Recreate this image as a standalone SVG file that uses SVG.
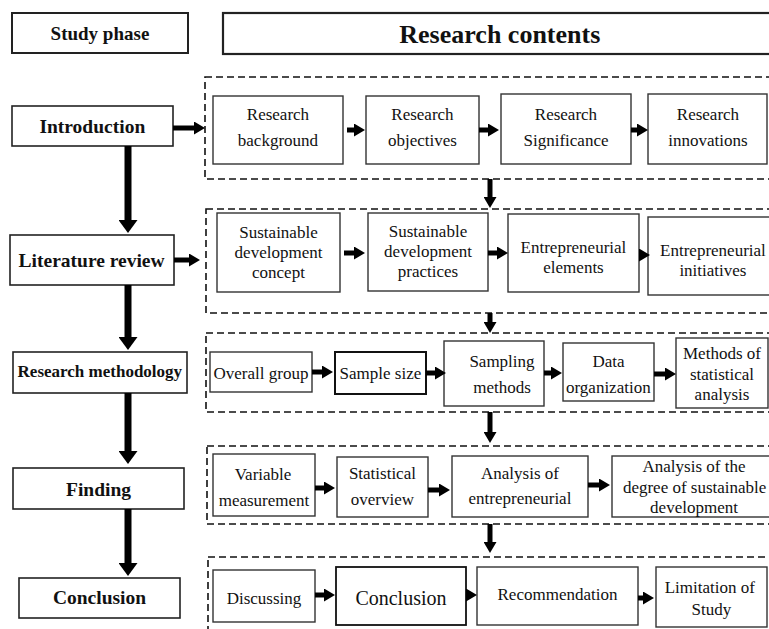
<svg xmlns="http://www.w3.org/2000/svg" width="769" height="629" viewBox="0 0 769 629">
  <defs>
    <marker id="ah" markerUnits="userSpaceOnUse" markerWidth="11" markerHeight="13" refX="1" refY="6.5" orient="auto">
      <path d="M0,0 L11,6.5 L0,13 z" fill="#000"/>
    </marker>
    <marker id="ahBig" markerUnits="userSpaceOnUse" markerWidth="13" markerHeight="19" refX="1" refY="9.5" orient="auto">
      <path d="M0,0 L13,9.5 L0,19 z" fill="#000"/>
    </marker>
  </defs>

  <rect width="769" height="629" fill="#fff"/>

  <!-- dashed content groups -->
  <g fill="none" stroke="#111" stroke-width="1.6" stroke-dasharray="7 4">
    <rect x="205" y="77" width="575" height="102"/>
    <rect x="206" y="209" width="575" height="104"/>
    <rect x="206" y="333" width="575" height="79"/>
    <rect x="207" y="446" width="575" height="78"/>
    <rect x="208" y="557" width="575" height="90"/>
  </g>

  <!-- column headers and study phases (bold labels, left-aligned at measured offsets) -->
  <g font-family="Liberation Serif" font-weight="bold" font-size="19.5" fill="#111">
    <g id="hdr-phase">
      <rect x="12" y="13" width="176" height="40" fill="#fff" stroke="#222" stroke-width="2"/>
      <text x="50.6" y="40" font-family="Liberation Serif" font-size="19">Study phase</text>
    </g>
    <g id="hdr-contents">
      <rect x="223" y="13" width="560" height="41" fill="#fff" stroke="#222" stroke-width="2.2"/>
      <text x="399.3" y="43" font-family="Liberation Serif" font-size="26">Research contents</text>
    </g>
    <g id="ph-intro">
      <rect x="12" y="106" width="161" height="40" fill="#fff" stroke="#222" stroke-width="1.6"/>
      <text x="39.4" y="133" font-family="Liberation Serif">Introduction</text>
    </g>
    <g id="ph-lit">
      <rect x="10" y="235" width="164" height="50" fill="#fff" stroke="#222" stroke-width="1.6"/>
      <text x="18.6" y="267" font-family="Liberation Serif">Literature review</text>
    </g>
    <g id="ph-method">
      <rect x="13" y="352" width="174" height="41" fill="#fff" stroke="#222" stroke-width="1.6"/>
      <text x="17.6" y="377" font-family="Liberation Serif" font-size="17">Research methodology</text>
    </g>
    <g id="ph-finding">
      <rect x="13" y="468" width="171" height="41" fill="#fff" stroke="#222" stroke-width="1.6"/>
      <text x="66" y="496" font-family="Liberation Serif">Finding</text>
    </g>
    <g id="ph-concl">
      <rect x="19" y="578" width="161" height="40" fill="#fff" stroke="#222" stroke-width="1.6"/>
      <text x="52.9" y="604" font-family="Liberation Serif">Conclusion</text>
    </g>
  </g>

  <!-- research content boxes: outlines -->
  <g fill="#fff" stroke="#333" stroke-width="1.4">
    <rect id="r-background" x="213" y="96" width="130" height="68"/>
    <rect id="r-objectives" x="366" y="96" width="113" height="68"/>
    <rect id="r-significance" x="501" y="94" width="130" height="70"/>
    <rect id="r-innovations" x="648" y="94" width="119" height="70"/>
    <rect id="r-sd-concept" x="217" y="213" width="123" height="79"/>
    <rect id="r-sd-practices" x="368" y="213" width="120" height="78"/>
    <rect id="r-ent-elements" x="508" y="214" width="131" height="78"/>
    <rect id="r-ent-initiatives" x="648" y="217" width="125" height="78"/>
    <rect id="r-overall" x="210" y="352" width="102" height="40"/>
    <rect id="r-sample" x="335" y="352" width="91" height="42" stroke="#111" stroke-width="2"/>
    <rect id="r-sampling" x="444" y="341" width="100" height="65"/>
    <rect id="r-data" x="563" y="343" width="91" height="58"/>
    <rect id="r-stat-methods" x="676" y="338" width="92" height="70"/>
    <rect id="r-variable" x="213" y="454" width="102" height="62"/>
    <rect id="r-overview" x="337" y="457" width="91" height="60"/>
    <rect id="r-analysis-ent" x="452" y="456" width="136" height="61"/>
    <rect id="r-analysis-sd" x="612" y="456" width="162" height="61"/>
    <rect id="r-discussing" x="213" y="570" width="102" height="52"/>
    <rect id="r-conclusion" x="336" y="567" width="130" height="58" stroke="#111" stroke-width="1.8"/>
    <rect id="r-recommendation" x="477" y="567" width="161" height="58"/>
    <rect id="r-limitation" x="656" y="567" width="111" height="60"/>
  </g>

  <!-- research content boxes: labels -->
  <g font-family="Liberation Serif" font-size="17" fill="#111">
    <g id="n-background"><text x="246.8" y="120" font-family="Liberation Serif">Research</text><text x="237.8" y="146" font-family="Liberation Serif">background</text></g>
    <g id="n-objectives"><text x="391.3" y="120" font-family="Liberation Serif">Research</text><text x="388" y="146" font-family="Liberation Serif">objectives</text></g>
    <g id="n-significance"><text x="534.8" y="120" font-family="Liberation Serif">Research</text><text x="523.5" y="146" font-family="Liberation Serif">Significance</text></g>
    <g id="n-innovations"><text x="676.8" y="120" font-family="Liberation Serif">Research</text><text x="668.3" y="146" font-family="Liberation Serif">innovations</text></g>

    <g id="n-sd-concept"><text x="239.3" y="238" font-family="Liberation Serif">Sustainable</text><text x="234.6" y="258" font-family="Liberation Serif">development</text><text x="252" y="278" font-family="Liberation Serif">concept</text></g>
    <g id="n-sd-practices"><text x="388.8" y="237" font-family="Liberation Serif">Sustainable</text><text x="384.1" y="257" font-family="Liberation Serif">development</text><text x="397.8" y="277" font-family="Liberation Serif">practices</text></g>
    <g id="n-ent-elements"><text x="520.6" y="253" font-family="Liberation Serif">Entrepreneurial</text><text x="543.3" y="273" font-family="Liberation Serif">elements</text></g>
    <g id="n-ent-initiatives"><text x="660.1" y="256" font-family="Liberation Serif">Entrepreneurial</text><text x="679.4" y="276" font-family="Liberation Serif">initiatives</text></g>

    <g id="n-overall"><text x="213.5" y="379" font-family="Liberation Serif">Overall group</text></g>
    <g id="n-sample"><text x="339.6" y="379" font-family="Liberation Serif">Sample size</text></g>
    <g id="n-sampling"><text x="469.4" y="367" font-family="Liberation Serif">Sampling</text><text x="473.2" y="393" font-family="Liberation Serif">methods</text></g>
    <g id="n-data"><text x="592.4" y="367" font-family="Liberation Serif">Data</text><text x="566" y="393" font-family="Liberation Serif">organization</text></g>
    <g id="n-stat-methods"><text x="683" y="359" font-family="Liberation Serif">Methods of</text><text x="689.9" y="380" font-family="Liberation Serif">statistical</text><text x="694.6" y="400" font-family="Liberation Serif">analysis</text></g>

    <g id="n-variable"><text x="234.7" y="480" font-family="Liberation Serif">Variable</text><text x="218.7" y="506" font-family="Liberation Serif">measurement</text></g>
    <g id="n-overview"><text x="348.9" y="479" font-family="Liberation Serif">Statistical</text><text x="350.8" y="505" font-family="Liberation Serif">overview</text></g>
    <g id="n-analysis-ent"><text x="481" y="479" font-family="Liberation Serif">Analysis of</text><text x="468.5" y="504" font-family="Liberation Serif">entrepreneurial</text></g>
    <g id="n-analysis-sd"><text x="642.5" y="472" font-family="Liberation Serif">Analysis of the</text><text x="622.9" y="493" font-family="Liberation Serif">degree of sustainable</text><text x="650.1" y="513" font-family="Liberation Serif">development</text></g>

    <g id="n-discussing"><text x="226.7" y="604" font-family="Liberation Serif">Discussing</text></g>
    <g id="n-conclusion"><text x="355.4" y="605" font-family="Liberation Serif" font-size="20">Conclusion</text></g>
    <g id="n-recommendation"><text x="497.5" y="600" font-family="Liberation Serif">Recommendation</text></g>
    <g id="n-limitation"><text x="664.7" y="593" font-family="Liberation Serif">Limitation of</text><text x="691.6" y="615" font-family="Liberation Serif">Study</text></g>
  </g>

  <!-- connectors -->
  <g id="connectors" fill="none" stroke="#000" stroke-width="5">
    <!-- phase sequence -->
    <g stroke-width="7">
      <path d="M128,146 V221" marker-end="url(#ahBig)"/>
      <path d="M128,285 V338" marker-end="url(#ahBig)"/>
      <path d="M128,393 V452" marker-end="url(#ahBig)"/>
      <path d="M128,509 V564" marker-end="url(#ahBig)"/>
    </g>
    <!-- phase to contents -->
    <path d="M173,128 H195" marker-end="url(#ah)"/>
    <path d="M174,260 H190" marker-end="url(#ah)"/>
    <!-- between content groups -->
    <path d="M490,179 V198" marker-end="url(#ah)"/>
    <path d="M490,313 V323" marker-end="url(#ah)"/>
    <path d="M490,412 V433" marker-end="url(#ah)"/>
    <path d="M490,524 V543" marker-end="url(#ah)"/>
    <!-- row 1 -->
    <path d="M347,130 H355" marker-end="url(#ah)"/>
    <path d="M479,130 H489" marker-end="url(#ah)"/>
    <path d="M631,130 H638" marker-end="url(#ah)"/>
    <!-- row 2 -->
    <path d="M344,253 H355" marker-end="url(#ah)"/>
    <path d="M488,253 H498" marker-end="url(#ah)"/>
    <path d="M639,255 H640" marker-end="url(#ah)"/>
    <!-- row 3 -->
    <path d="M312,372 H323" marker-end="url(#ah)"/>
    <path d="M426,373 H436" marker-end="url(#ah)"/>
    <path d="M544,373 H552" marker-end="url(#ah)"/>
    <path d="M654,374 H666" marker-end="url(#ah)"/>
    <!-- row 4 -->
    <path d="M315,488 H325" marker-end="url(#ah)"/>
    <path d="M428,490 H440" marker-end="url(#ah)"/>
    <path d="M588,485 H600" marker-end="url(#ah)"/>
    <!-- row 5 -->
    <path d="M315,595 H325" marker-end="url(#ah)"/>
    <path d="M466,595 H467" marker-end="url(#ah)"/>
    <path d="M638,598 H644" marker-end="url(#ah)"/>
  </g>
</svg>
